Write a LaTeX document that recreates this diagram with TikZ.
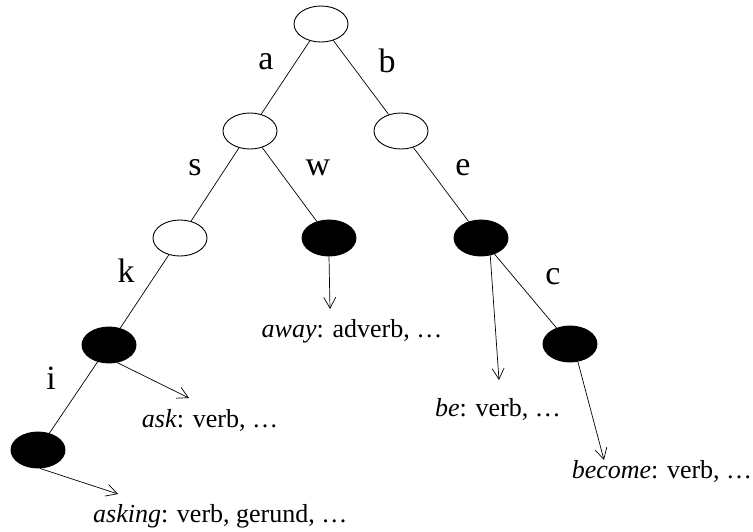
\documentclass[tikz,border=0pt]{standalone}
\usepackage{fontspec}
\setmainfont{Liberation Serif}
\usetikzlibrary{shapes.geometric,arrows.meta}
\begin{document}
\begin{tikzpicture}[x=1pt,y=-1pt,
  trienode/.style={ellipse,draw=black,line width=0.9pt,minimum width=54pt,minimum height=36pt,inner sep=0pt},
  openstate/.style={trienode,fill=white},
  finalstate/.style={trienode,fill=black},
  edge/.style={line width=0.7pt},
  ptr/.style={line width=0.7pt,-{Straight Barb[length=11pt,width=12pt,line width=0.7pt]}},
  letter/.style={font=\fontsize{34}{38}\selectfont,inner sep=0pt},
  entry/.style={font=\fontsize{26}{30}\selectfont,inner sep=0pt,anchor=base}]
\useasboundingbox (0,0) rectangle (753,531);

% trie states
\node[openstate]  (root) at (321,24)  {};
\node[openstate]  (na)   at (250,131) {};
\node[openstate]  (nb)   at (401,131) {};
\node[openstate]  (ns)   at (180,238) {};
\node[finalstate] (nw)   at (329,238) {};
\node[finalstate] (ne)   at (481,238) {};
\node[finalstate] (nk)   at (109,345) {};
\node[finalstate] (nc)   at (570,344) {};
\node[finalstate] (ni)   at (38,450)  {};

% transitions
\draw[edge] (root) -- (na);
\draw[edge] (root) -- (nb);
\draw[edge] (na) -- (ns);
\draw[edge] (na) -- (nw);
\draw[edge] (nb) -- (ne);
\draw[edge] (ns) -- (nk);
\draw[edge] (ne) -- (nc);
\draw[edge] (nk) -- (ni);

% transition letters
\node[letter] (la) at (266,62)  {a};
\node[letter] (lb) at (387,61)  {b};
\node[letter] (ls) at (195,168) {s};
\node[letter] (lw) at (318,168) {w};
\node[letter] (le) at (463,168) {e};
\node[letter] (lk) at (126,271) {k};
\node[letter] (lc) at (553,277) {c};
\node[letter] (li) at (51,378)  {i};

% dictionary entries
\node[entry] (away)   at (352,337) {\textit{away}: adverb, …};
\node[entry] (ask)    at (210,427) {\textit{ask}: verb, …};
\node[entry] (be)     at (498,416) {\textit{be}: verb, …};
\node[entry] (become) at (662,478) {\textit{become}: verb, …};
\node[entry,anchor=base west] (asking) at (93,522) {\textit{asking}: verb, gerund, …};

% pointers from final states to entries
\coordinate (tw) at (330,309);
\coordinate (tk) at (189,398);
\coordinate (te) at (499,380);
\coordinate (tc) at (604,460);
\coordinate (ti) at (118,494);
\draw[ptr] (nw.south) -- (tw);
\draw[ptr] (nk.-65) -- (tk);
\draw[ptr] (ne.-62) -- (te);
\draw[ptr] (nc.-66) -- (tc);
\draw[ptr] (ni.-84) -- (ti);
\end{tikzpicture}
\end{document}
